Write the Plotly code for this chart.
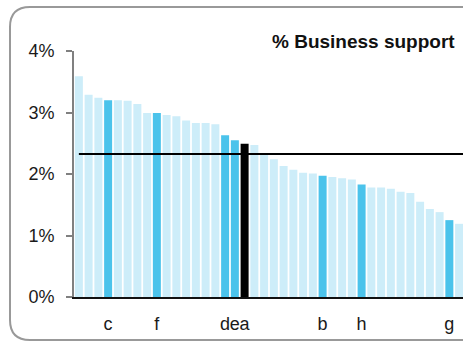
import plotly.graph_objects as go

values = [3.59, 3.29, 3.24, 3.20, 3.20, 3.19, 3.14, 2.99, 2.99, 2.96,
          2.94, 2.87, 2.83, 2.83, 2.81, 2.63, 2.55, 2.49, 2.47, 2.31,
          2.24, 2.13, 2.07, 2.02, 2.01, 1.97, 1.95, 1.93, 1.91, 1.83,
          1.78, 1.78, 1.76, 1.71, 1.69, 1.55, 1.43, 1.38, 1.25, 1.19]
labels = ["", "", "", "c", "", "", "", "", "f", "",
          "", "", "", "", "", "d", "e", "a", "", "",
          "", "", "", "", "", "b", "", "", "", "h",
          "", "", "", "", "", "", "", "", "g", ""]
# 0 = other, 1 = highlighted, 2 = focus
kind = [0, 0, 0, 1, 0, 0, 0, 0, 1, 0,
        0, 0, 0, 0, 0, 1, 1, 2, 0, 0,
        0, 0, 0, 0, 0, 1, 0, 0, 0, 1,
        0, 0, 0, 0, 0, 0, 0, 0, 1, 0]
average = 2.325
yticks = [0, 1, 2, 3, 4]
yticktext = ["0%", "1%", "2%", "3%", "4%"]
title = "% Business support"

palette = {0: "#CDEDF9", 1: "#4BC3EB", 2: "#000000"}
xs = list(range(len(values)))
lab_vals = [i for i, t in enumerate(labels) if t]
lab_text = [labels[i] for i in lab_vals]

W, H = 463, 341
L, R, T, B = 74, 0, 51, 44
pw, ph = W - L - R, H - T - B

fig = go.Figure()
fig.add_trace(go.Bar(x=xs, y=values, marker_color=[palette[k] for k in kind],
                     marker_line_width=0, hoverinfo="skip"))

fig.add_shape(type="line", xref="x", yref="y", x0=0, x1=39.6, y0=average, y1=average,
              line=dict(color="black", width=2), layer="above")

def px(x):
    return (x - L) / pw

def py(y):
    return (H - B - y) / ph

# rounded frame
x0, y0, x1, y1, r = 10, 7, 480, 340, 20
path = (f"M {px(x0)},{py(y0 + r)} "
        f"Q {px(x0)},{py(y0)} {px(x0 + r)},{py(y0)} "
        f"L {px(x1)},{py(y0)} "
        f"M {px(x0)},{py(y0 + r)} "
        f"L {px(x0)},{py(y1 - r)} "
        f"Q {px(x0)},{py(y1)} {px(x0 + r)},{py(y1)} "
        f"L {px(x1)},{py(y1)}")
fig.add_shape(type="path", xref="paper", yref="paper", path=path,
              line=dict(color="#999999", width=2), layer="above")

fig.add_annotation(text="<b>" + title + "</b>", xref="paper", yref="paper",
                   x=px(457), y=py(42), xanchor="right", yanchor="middle",
                   showarrow=False, font=dict(family="Liberation Sans, Arial", size=19, color="#111111"))

fig.update_layout(
    width=W, height=H, margin=dict(l=L, r=R, t=T, b=B, autoexpand=False),
    paper_bgcolor="white", plot_bgcolor="white",
    bargap=0.18, showlegend=False,
    font=dict(family="Liberation Sans, Arial", color="#1a1a1a"),
)
fig.update_xaxes(range=[-0.5, 39.4], tickmode="array", tickvals=lab_vals, ticktext=lab_text,
                 ticks="", tickangle=0, showline=True, linecolor="#111111", linewidth=1.5,
                 showgrid=False, zeroline=False, tickfont=dict(size=18),
                 ticklabelstandoff=10, automargin=False, fixedrange=True)
fig.update_yaxes(range=[0, 4], tickmode="array", tickvals=yticks, ticktext=yticktext,
                 ticks="outside", ticklen=6, tickwidth=2, tickcolor="#808080",
                 showline=True, linecolor="#808080", linewidth=2,
                 showgrid=False, zeroline=False, tickfont=dict(size=18),
                 ticklabelstandoff=8, automargin=False, fixedrange=True)

fig.write_html("out.html", config={"displayModeBar": False},
               post_script="document.body.style.margin='0';document.body.style.overflow='hidden';")
